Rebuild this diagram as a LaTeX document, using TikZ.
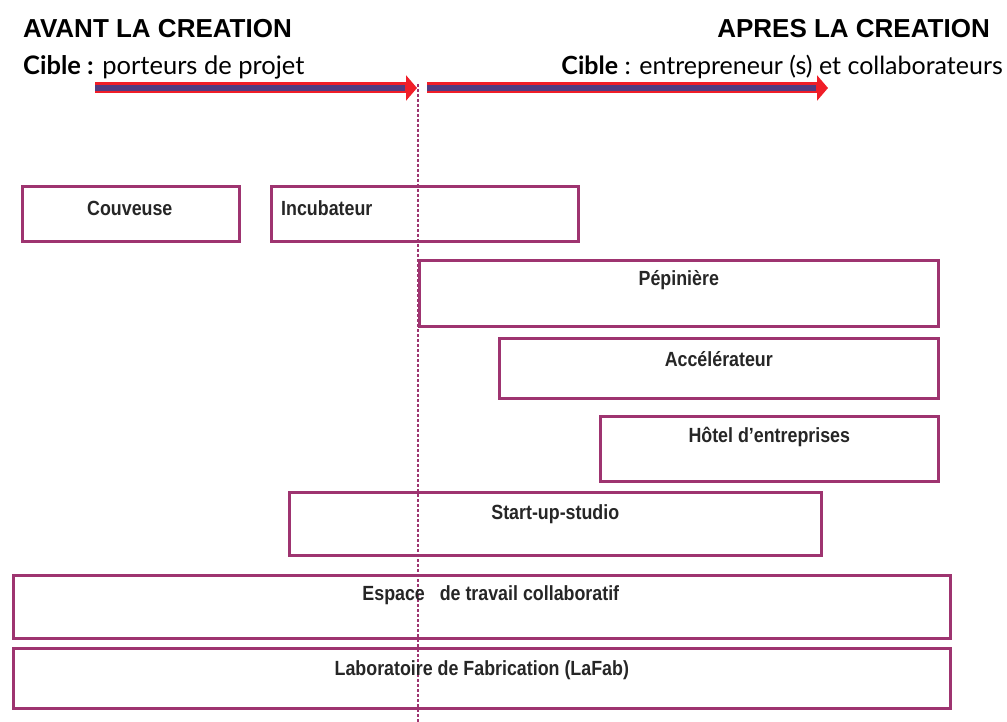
\documentclass[tikz,border=0pt]{standalone}
\usepackage{fontspec}
\setmainfont{Liberation Sans}
\newfontfamily\headfont{Liberation Sans}
\newfontfamily\ciblefont{Lato}
\newfontfamily\lblfont{Liberation Sans}[FakeStretch=0.87]
\usetikzlibrary{arrows.meta,calc}
\definecolor{boxcol}{RGB}{158,52,112}
\definecolor{arrred}{RGB}{240,30,40}
\definecolor{arrcore}{RGB}{80,60,130}
\tikzset{
  stage/.style={draw=boxcol, line width=2.6pt, anchor=north west, inner sep=0pt},
  lbl/.style={font=\lblfont\bfseries\fontsize{20.5}{23}\selectfont, inner sep=0pt, text=black!85},
  phase/.style={line width=11pt, draw=arrred, -{Triangle[length=11pt,width=25pt]}},
  phasecore/.style={line width=6.5pt, draw=arrcore},
  divider/.style={draw=boxcol, line width=1.1pt, dash pattern=on 3pt off 2pt},
}
\begin{document}
\begin{tikzpicture}[x=1pt,y=-1pt]
\useasboundingbox (0,0) rectangle (1007,722);

% headings
\node[anchor=base west, inner sep=0pt, font=\headfont\bfseries\fontsize{26}{30}\selectfont] (avant) at (23,38) {AVANT LA CREATION};
\node[anchor=base east, inner sep=0pt, font=\headfont\bfseries\fontsize{26}{30}\selectfont] (apres) at (990,38) {APRES LA CREATION};
\node[anchor=base west, inner sep=0pt, font=\ciblefont\fontsize{25.5}{30}\selectfont] (cibleA) at (23,75) {\textbf{Cible :} porteurs de projet};
\node[anchor=base east, inner sep=0pt, font=\ciblefont\fontsize{25}{30}\selectfont] (cibleB) at (1003,75) {\textbf{Cible} : entrepreneur (s) et collaborateurs};

% timeline arrows
\coordinate (a1) at (95,88);
\coordinate (a2) at (417,88);
\coordinate (b1) at (427,88);
\coordinate (b2) at (828,88);
\draw[phase] (a1) -- (a2);
\draw[phasecore] (a1) -- ($(a2)+(-12,0)$);
\draw[phase] (b1) -- (b2);
\draw[phasecore] (b1) -- ($(b2)+(-12,0)$);

% creation boundary
\coordinate (d1) at (418,84);
\coordinate (d2) at (418,722);
\draw[divider] (d1) -- (d2);

% stages
\node[stage, minimum width=217pt, minimum height=55pt] (couv) at (21,185) {};
\node[stage, minimum width=307pt, minimum height=55pt] (incu) at (270,185) {};
\node[stage, minimum width=519pt, minimum height=66pt] (pepi) at (418,259) {};
\node[stage, minimum width=439pt, minimum height=60pt] (acce) at (498,337) {};
\node[stage, minimum width=338pt, minimum height=65pt] (hotel) at (599,415) {};
\node[stage, minimum width=532pt, minimum height=63pt] (start) at (288,491) {};
\node[stage, minimum width=937pt, minimum height=63pt] (espace) at (12,574) {};
\node[stage, minimum width=937pt, minimum height=60pt] (lafab) at (12,647) {};

\node[lbl] (tcouv) at ($(couv.north)+(-1,23)$) {Couveuse};
\node[lbl, anchor=west] (tincu) at ($(incu.north west)+(11,23)$) {Incubateur};
\node[lbl] (tpepi) at ($(pepi.north)+(0,21)$) {Pépinière};
\node[lbl] (tacce) at ($(acce.north)+(0,22)$) {Accélérateur};
\node[lbl] (thotel) at ($(hotel.north)+(0,22)$) {Hôtel d’entreprises};
\node[lbl] (tstart) at ($(start.north)+(0,23)$) {Start-up-studio};
\node[lbl] (tespace) at ($(espace.north)+(9,21)$) {Espace\ \ \ de travail collaboratif};
\node[lbl] (tlafab) at ($(lafab.north)+(0,23)$) {Laboratoire de Fabrication (LaFab)};
\end{tikzpicture}
\end{document}
